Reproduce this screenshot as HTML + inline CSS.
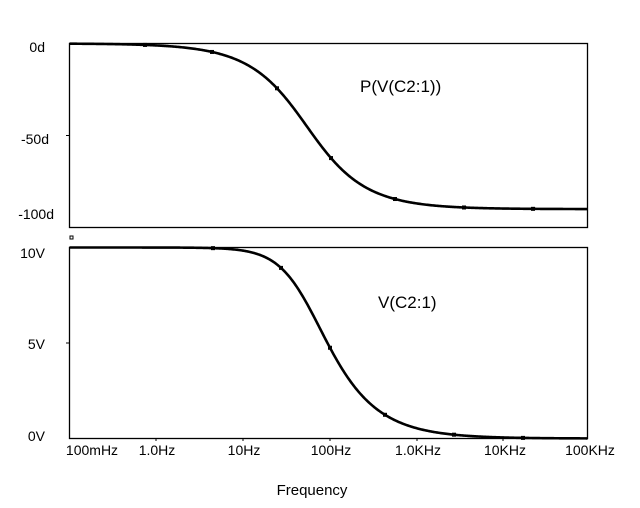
<!DOCTYPE html>
<html><head><meta charset="utf-8"><style>
body{margin:0;background:#fff}
svg{display:block}
text{font-family:"Liberation Sans",Arial,sans-serif;fill:#000}
</style></head><body>
<svg id="s" width="640" height="508" xmlns="http://www.w3.org/2000/svg">
<rect x="69.5" y="43.5" width="518" height="184" fill="none" stroke="#000" stroke-width="1.3"/>
<rect x="69.5" y="247.5" width="518" height="191" fill="none" stroke="#000" stroke-width="1.3"/>
<g font-size="14" text-anchor="end">
<text x="45" y="52">0d</text>
<text x="49" y="144">-50d</text>
<text x="54" y="219">-100d</text>
<text x="45" y="258">10V</text>
<text x="45" y="349">5V</text>
<text x="45" y="441">0V</text>
</g>
<g font-size="14" text-anchor="middle">
<text x="92" y="455">100mHz</text>
<text x="157" y="455">1.0Hz</text>
<text x="244" y="455">10Hz</text>
<text x="331" y="455">100Hz</text>
<text x="418" y="455">1.0KHz</text>
<text x="505" y="455">10KHz</text>
<text x="590" y="455">100KHz</text>
<text x="312" y="495" font-size="15">Frequency</text>
</g>
<text x="360" y="92" font-size="17">P(V(C2:1))</text>
<text x="378" y="308" font-size="17">V(C2:1)</text>
<g stroke="#000" stroke-width="1">
<line x1="66" y1="135.5" x2="69" y2="135.5"/>
<line x1="66" y1="343" x2="69" y2="343"/>
<line x1="156" y1="438" x2="156" y2="441"/><line x1="243" y1="438" x2="243" y2="441"/>
<line x1="330" y1="438" x2="330" y2="441"/><line x1="417" y1="438" x2="417" y2="441"/>
<line x1="503" y1="438" x2="503" y2="441"/>
</g>
<rect x="70" y="236" width="3" height="3" fill="none" stroke="#000" stroke-width="1"/>
<path id="p1" fill="none" stroke="#000" stroke-width="2.6"/>
<path id="p2" fill="none" stroke="#000" stroke-width="2.6"/>
<g id="m"></g>
</svg>
<script>
var fc=55,x0=69.5,dec=86.6;
function f(x){return 0.1*Math.pow(10,(x-x0)/dec);}
var a="",b="";
for(var x=69.5;x<=587.5;x+=1){var r=f(x)/fc;
var ph=Math.atan(r)*180/Math.PI;var yp=43.5+ph/100*184;
var m=1/Math.sqrt(1+r*r);var ym=438.5-m*191;
a+=(a?"L":"M")+x.toFixed(1)+","+yp.toFixed(2);
b+=(b?"L":"M")+x.toFixed(1)+","+ym.toFixed(2);}
document.getElementById("p1").setAttribute("d",a);
document.getElementById("p2").setAttribute("d",b);
var g=document.getElementById("m"),h="";
[145,212,277,331,395,464,533].forEach(function(x){var r=f(x)/fc;var y=43.5+Math.atan(r)*180/Math.PI/100*184;h+='<rect x="'+(x-1.5)+'" y="'+(y-1.5)+'" width="3" height="3" fill="none" stroke="#000" stroke-width="1"/>';});
[213,281,330,385,454,523].forEach(function(x){var r=f(x)/fc;var y=438.5-191/Math.sqrt(1+r*r);h+='<rect x="'+(x-1.5)+'" y="'+(y-1.5)+'" width="3" height="3" fill="none" stroke="#000" stroke-width="1"/>';});
g.innerHTML=h;
</script>
</body></html>
